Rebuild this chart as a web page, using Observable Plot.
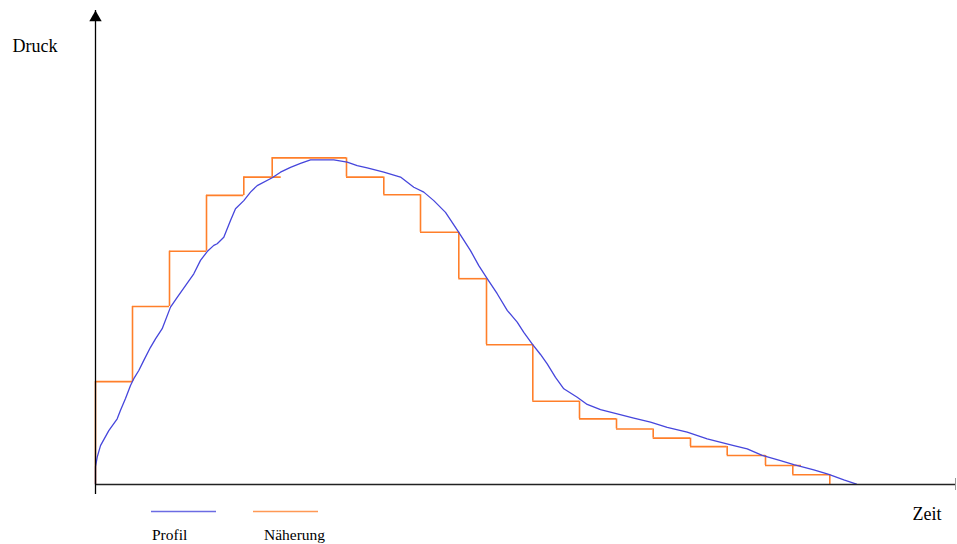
<!DOCTYPE html>
<html>
<head>
<meta charset="utf-8">
<script src="https://cdn.jsdelivr.net/npm/d3@7"></script>
<script src="https://cdn.jsdelivr.net/npm/@observablehq/plot@0.6"></script>
<style>
  html, body { margin: 0; padding: 0; background: #fff; }
  #chart { position: relative; width: 957px; height: 544px; }
</style>
</head>
<body>
<div id="chart"></div>
<script>
// Axis labels and legend
const yLabel = "Druck";
const xLabel = "Zeit";
const seriesNames = ["Profil", "Näherung"];
const seriesColors = ["#4646dc", "#ff7f2a"];

// Profil (blue curve): time and pressure (% of peak)
const profilT = [0, 0, 0.17, 0.5, 1.33, 2.17, 2.5, 3.0, 3.5, 3.83, 4.33, 4.83, 5.5, 6.0, 6.67, 7.5, 8.17, 9.0, 9.83, 10.5, 11.17, 11.83, 12.17, 12.83, 13.5, 14.0, 14.83, 15.5, 16.17, 17.67, 18.5, 19.5, 20.5, 21.5, 23.83, 25.17, 26.17, 27.17, 28.83, 30.5, 31.83, 32.83, 33.83, 35.0, 36.33, 37.5, 38.33, 39.17, 40.17, 41.17, 42.17, 42.83, 43.7, 44.5, 45.17, 46.0, 46.83, 48.17, 49.17, 50.5, 52.17, 53.83, 55.5, 57.17, 59.17, 61.17, 63.83, 65.17, 66.67, 68.5, 69.83, 71.83, 73.33, 74.83, 76.1];
const profilP = [0, 5.5, 8.4, 11.9, 16.5, 20.1, 22.7, 26.3, 30.3, 32.4, 34.9, 38.0, 42.0, 44.6, 47.7, 54.3, 57.3, 60.9, 64.5, 68.6, 71.3, 73.2, 73.7, 75.7, 80.8, 84.4, 86.9, 89.5, 91.5, 93.9, 95.6, 97.1, 98.3, 99.4, 99.4, 98.7, 97.6, 96.9, 95.6, 94.1, 91.0, 89.5, 86.9, 83.3, 77.2, 71.6, 67.0, 63.0, 58.4, 53.3, 49.7, 46.6, 42.9, 39.8, 36.9, 32.8, 29.3, 26.7, 24.5, 22.9, 21.6, 20.3, 19.1, 17.5, 16.0, 14.0, 11.9, 10.9, 8.9, 7.3, 6.1, 4.5, 3.1, 1.4, 0.15];

// Näherung (orange steps): start, end and level of each step
const stepStart = [0, 3.7, 7.4, 11.1, 14.83, 17.67, 25.1, 28.83, 32.5, 36.33, 39.1, 43.73, 48.4, 52.1, 55.77, 59.5, 63.17, 67.0, 69.73];
const stepEnd   = [3.7, 7.4, 11.1, 14.83, 18.57, 25.1, 28.83, 32.5, 36.33, 39.1, 43.73, 48.4, 52.1, 55.77, 59.5, 63.17, 67.0, 70.6, 73.43];
const stepLevel = [31.5, 54.5, 71.4, 88.5, 94.1, 100, 94.1, 88.7, 77.2, 63.0, 42.8, 25.5, 20.1, 17.0, 14.2, 11.6, 8.9, 5.8, 3.0];

// Axis extents
const tMax = 86;
const pMax = 145.1;

const profil = profilT.map((t, i) => ({t, p: profilP[i]}));
const steps = stepStart.map((s, i) => ({start: s, end: stepEnd[i], level: stepLevel[i]}));
const risers = steps.map((s, i) => ({x: s.start, y1: i === 0 ? 0 : steps[i - 1].level, y2: s.level}));
risers.push({x: steps[steps.length - 1].end, y1: steps[steps.length - 1].level, y2: 0});

const font = "'Liberation Serif', 'Times New Roman', serif";

const plot = Plot.plot({
  width: 957,
  height: 544,
  marginLeft: 95,
  marginRight: 2,
  marginTop: 10,
  marginBottom: 60,
  style: {background: "#fff", fontFamily: font},
  x: {domain: [0, tMax], axis: null},
  y: {domain: [0, pMax], axis: null},
  marks: [
    Plot.ruleY(steps, {y: "level", x1: "start", x2: "end", stroke: seriesColors[1], strokeWidth: 1.6}),
    Plot.ruleX(risers, {x: "x", y1: "y1", y2: "y2", stroke: seriesColors[1], strokeWidth: 1.6}),
    Plot.line(profil, {x: "t", y: "p", stroke: seriesColors[0], strokeWidth: 1.3}),
    // axes
    Plot.ruleY([0], {x1: 0, x2: tMax, stroke: "#222", strokeWidth: 1.3}),
    Plot.ruleX([tMax], {y1: 0, y2: 0, insetTop: -6, insetBottom: -6, stroke: "#999", strokeWidth: 1}),
    Plot.ruleX([0], {y1: 0, y2: pMax, insetTop: 10, stroke: "#000", strokeWidth: 1.3}),
    Plot.dot([0], {x: 0, y: pMax, symbol: "triangle", r: 4.6, dy: 7.1, fill: "#000", stroke: null}),
    Plot.text([yLabel], {frameAnchor: "top-left", dx: -83, dy: 41, textAnchor: "start", lineAnchor: "bottom", fontSize: 18, fill: "#000"}),
    Plot.text([xLabel], {frameAnchor: "bottom-right", dx: -43, dy: 35, textAnchor: "start", lineAnchor: "bottom", fontSize: 18, fill: "#000"})
  ]
});

document.getElementById("chart").appendChild(plot);

// Legend drawn into the bottom area of the SVG
const svg = d3.select(plot);
const legend = svg.append("g").attr("font-family", font).attr("font-size", 15.5).attr("text-anchor", "start");
const legendItems = [
  {name: seriesNames[0], color: seriesColors[0], x1: 151, x2: 216, tx: 152},
  {name: seriesNames[1], color: seriesColors[1], x1: 253, x2: 318, tx: 264}
];
legendItems.forEach(d => {
  legend.append("line").attr("x1", d.x1).attr("x2", d.x2).attr("y1", 511.5).attr("y2", 511.5)
    .attr("stroke", d.color).attr("stroke-opacity", 0.8).attr("stroke-width", 1.3);
  legend.append("text").attr("x", d.tx).attr("y", 540).attr("fill", "#000")
    .attr("text-anchor", "start").text(d.name);
});
</script>
</body>
</html>
